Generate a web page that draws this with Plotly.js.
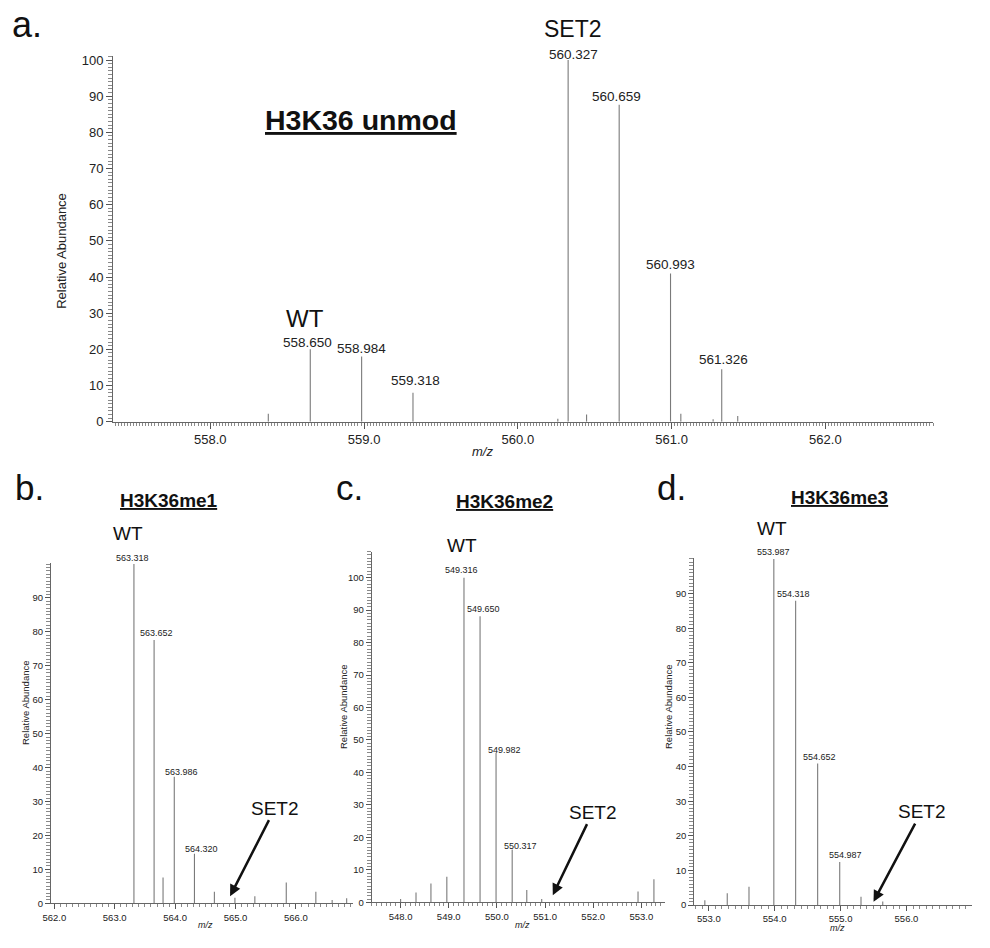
<!DOCTYPE html>
<html><head><meta charset="utf-8">
<script src="https://cdn.plot.ly/plotly-3.0.1.min.js"></script>
<style>html,body{margin:0;padding:0;background:#fff}#chart{width:990px;height:948px}</style>
</head><body><div id="chart"></div>
<script>
// ---------- DATA ----------
// Panel a: H3K36 unmod
const aPeakMz  = [558.650, 558.984, 559.318, 560.327, 560.659, 560.993, 561.326];
const aPeakInt = [20.0, 18.0, 8.0, 100.0, 87.6, 41.0, 14.5];
const aMinorMz  = [558.377, 560.260, 560.447, 561.060, 561.270, 561.430];
const aMinorInt = [2.2, 0.8, 2.0, 2.2, 0.7, 1.6];
const aYTicks = [0, 10, 20, 30, 40, 50, 60, 70, 80, 90, 100];
// Panel b: H3K36me1
const bPeakMz  = [563.318, 563.652, 563.986, 564.320];
const bPeakInt = [100.0, 77.6, 37.3, 14.6];
const bMinorMz  = [563.800, 564.650, 564.990, 565.320, 565.840, 566.330, 566.600, 566.840];
const bMinorInt = [7.6, 3.4, 1.6, 2.1, 6.1, 3.4, 1.0, 1.5];
const bYTicks = [0, 10, 20, 30, 40, 50, 60, 70, 80, 90];
// Panel c: H3K36me2
const cPeakMz  = [549.316, 549.650, 549.982, 550.317];
const cPeakInt = [100.0, 88.1, 46.0, 16.3];
const cMinorMz  = [548.000, 548.320, 548.630, 548.960, 550.620, 550.930, 552.930, 553.260];
const cMinorInt = [1.0, 3.0, 5.8, 7.9, 3.8, 1.0, 3.3, 7.1];
const cYTicks = [0, 10, 20, 30, 40, 50, 60, 70, 80, 90, 100];
// Panel d: H3K36me3
const dPeakMz  = [553.987, 554.318, 554.652, 554.987];
const dPeakInt = [100.0, 87.9, 40.9, 12.4];
const dMinorMz  = [552.940, 553.280, 553.610, 555.310, 555.640];
const dMinorInt = [1.4, 3.4, 5.3, 2.4, 1.0];
const dYTicks = [0, 10, 20, 30, 40, 50, 60, 70, 80, 90];

// ---------- STYLE / LAYOUT ----------
const W = 990, H = 948;
const FONT = 'Liberation Sans, Arial, Helvetica, sans-serif';
const px = v => v / W, py = v => 1 - v / H;

const panels = [
  {id:'', mz:aPeakMz, inten:aPeakInt, mmz:aMinorMz, mint:aMinorInt, yt:aYTicks,
   xdom:[113,933], ydom:[421.7,56.4], xr:[557.367,562.70], yr:[0,101],
   tick:13, lab:13.5, minorX:0.02, dxs:[-3,0,3,5,-3,0,2], dys:[7.3,8.4,12.7,6,8.3,9,9.3]},
  {id:'2', mz:bPeakMz, inten:bPeakInt, mmz:bMinorMz, mint:bMinorInt, yt:bYTicks,
   xdom:[51,353], ydom:[903.3,562.7], xr:[561.945,566.945], yr:[0,100.4],
   tick:9.5, lab:9, minorX:0.1, dxs:[-1,2.3,6.8,6.7], dys:[5.7,6.7,4.3,4.3]},
  {id:'3', mz:cPeakMz, inten:cPeakInt, mmz:cMinorMz, mint:cMinorInt, yt:cYTicks,
   xdom:[371.7,665], ydom:[902.3,551.7], xr:[547.40,553.49], yr:[0,108],
   tick:9.5, lab:9, minorX:0.1, dxs:[-2,3,8,8], dys:[7.7,7,3.4,3.3]},
  {id:'4', mz:dPeakMz, inten:dPeakInt, mmz:dMinorMz, mint:dMinorInt, yt:dYTicks,
   xdom:[694.3,971.7], ydom:[905,557.6], xr:[552.78,556.99], yr:[0,100.4],
   tick:9.5, lab:9, minorX:0.1, dxs:[0,-2.5,1.6,5.3], dys:[6.6,7.3,6,6.7]}
];

function sticks(mz, inten) {
  const x = [], y = [];
  mz.forEach((m, i) => { x.push(m, m, null); y.push(0, inten[i], null); });
  return {x, y};
}

const traces = [];
const layout = {
  width: W, height: H, margin: {l:0, r:0, t:0, b:0},
  paper_bgcolor: '#fff', plot_bgcolor: '#fff', showlegend: false,
  font: {family: FONT, color: '#222'},
  annotations: []
};

panels.forEach(p => {
  const xa = 'x' + p.id, ya = 'y' + p.id;
  const all = sticks(p.mmz.concat(p.mz), p.mint.concat(p.inten));
  traces.push({type:'scatter', mode:'lines', x: all.x, y: all.y, xaxis: xa, yaxis: ya,
    line: {color:'#7a7a7a', width:1.1}, hoverinfo:'skip', cliponaxis:false});
  layout['xaxis' + p.id] = {
    domain: [px(p.xdom[0]), px(p.xdom[1])], range: p.xr, anchor: ya,
    showline: true, linecolor: '#666', linewidth: 1, showgrid: false, zeroline: false,
    ticks: 'outside', ticklen: p.id === '' ? 6 : 5, tickcolor: '#555', tickwidth: 1,
    dtick: 1, tick0: 0,
    tickformat: '.1f', tickfont: {size: p.tick, color: '#222', family: FONT},
    minor: {dtick: p.minorX, ticks: 'outside', ticklen: 3, tickcolor: '#8a8a8a', tickwidth: 1},
    automargin: false
  };
  layout['yaxis' + p.id] = {
    domain: [py(p.ydom[0]), py(p.ydom[1])], range: p.yr, anchor: xa,
    showline: true, linecolor: '#666', linewidth: 1, showgrid: false, zeroline: false,
    ticks: 'outside', ticklen: p.id === '' ? 6 : 5, tickcolor: '#555', tickwidth: 1,
    tickvals: p.yt,
    tickfont: {size: p.tick, color: '#222', family: FONT},
    minor: {dtick: 1, ticks: 'outside', ticklen: 4, tickcolor: '#8a8a8a', tickwidth: 1},
    automargin: false
  };
  p.mz.forEach((m, i) => {
    layout.annotations.push({xref: xa, yref: ya, x: m, y: p.inten[i],
      text: m.toFixed(3), showarrow: false, xanchor: 'center', yanchor: 'middle',
      xshift: p.dxs[i], yshift: p.dys[i], font: {size: p.lab, color: '#222', family: FONT}});
  });
});

function txt(text, x, y, size, extra) {
  layout.annotations.push(Object.assign({xref:'paper', yref:'paper', x: px(x), y: py(y),
    text: text, showarrow: false, xanchor:'center', yanchor:'middle',
    font: {size: size, color: '#111', family: FONT}}, extra || {}));
}

// panel letters
txt('a.', 27, 25, 36); txt('b.', 29, 487.5, 35); txt('c.', 349.5, 487.5, 35); txt('d.', 671, 487.5, 35);
// panel titles
txt('<b><u>H3K36 unmod</u></b>', 361, 120, 28.5);
txt('<b><u>H3K36me1</u></b>', 169, 500, 19);
txt('<b><u>H3K36me2</u></b>', 505, 501.7, 19);
txt('<b><u>H3K36me3</u></b>', 839.5, 497.3, 19);
// sample labels
txt('WT', 305, 318, 24); txt('SET2', 572.5, 28.7, 23);
txt('WT', 128, 533, 19); txt('WT', 461.7, 545, 19); txt('WT', 771.7, 528, 19);
// axis titles
txt('<i>m/z</i>', 482, 452, 13, {font:{size:13, color:'#222', family:FONT}});
txt('<i>m/z</i>', 205.8, 925, 9, {font:{size:9, color:'#222', family:FONT}});
txt('<i>m/z</i>', 522.5, 925, 9, {font:{size:9, color:'#222', family:FONT}});
txt('<i>m/z</i>', 837.5, 928, 9, {font:{size:9, color:'#222', family:FONT}});
txt('Relative Abundance', 62, 250.8, 13, {textangle:-90, font:{size:13, color:'#222', family:FONT}});
txt('Relative Abundance', 25, 703, 9.5, {textangle:-90, font:{size:9.5, color:'#222', family:FONT}});
txt('Relative Abundance', 343, 707, 9.5, {textangle:-90, font:{size:9.5, color:'#222', family:FONT}});
txt('Relative Abundance', 668, 707, 9.5, {textangle:-90, font:{size:9.5, color:'#222', family:FONT}});

// SET2 arrows (point at the expected SET2 isotope position)
const arrowSpecs = [
  {xa:'x2', ya:'y2', x:564.91, y:2.1, ax:45, ay:-88},
  {xa:'x3', ya:'y3', x:551.16, y:2.2, ax:40, ay:-83},
  {xa:'x4', ya:'y4', x:555.50, y:0.95, ax:48, ay:-90}
];
arrowSpecs.forEach(a => layout.annotations.push({xref:a.xa, yref:a.ya, x:a.x, y:a.y,
  ax:a.ax, ay:a.ay, text:'SET2', showarrow:true, arrowhead:2, arrowsize:0.9, arrowwidth:2.5,
  arrowcolor:'#111', standoff:0, font:{size:19, color:'#111', family:FONT}}));

Plotly.newPlot('chart', traces, layout, {staticPlot:true, displayModeBar:false});
</script></body></html>
